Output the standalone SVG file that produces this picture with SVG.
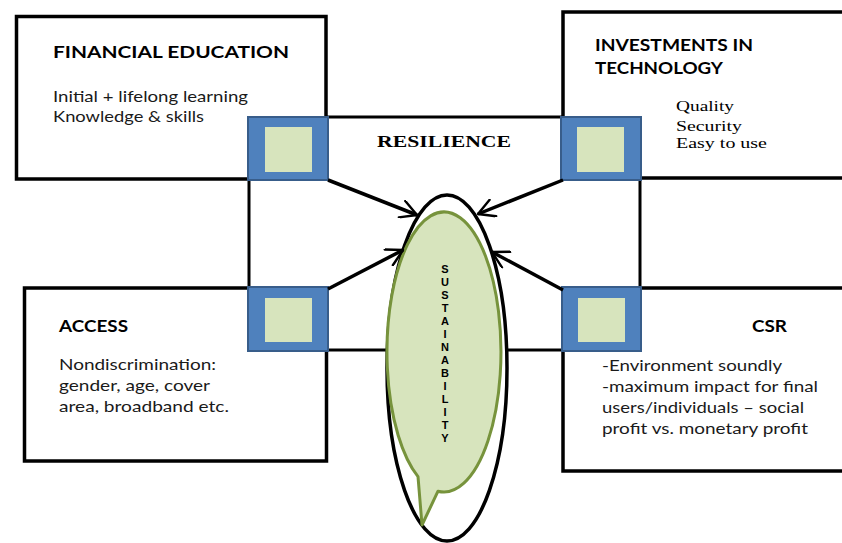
<svg xmlns="http://www.w3.org/2000/svg" width="842" height="543" viewBox="0 0 842 543">
  <defs>
    <style>
      .box { fill: #ffffff; stroke: #000000; stroke-width: 3.5; }
      .frame { fill: none; stroke: #000000; stroke-width: 3; }
      .outer { fill: #4F81BD; stroke: #385D8A; stroke-width: 2; }
      .inner { fill: #D7E4BD; }
      .head { font-family: Lato, "Liberation Sans", sans-serif; font-weight: bold; font-size: 17px; fill: #000000; }
      .body { font-family: Lato, "Liberation Sans", sans-serif; font-size: 15px; fill: #1a1a1a; }
      .serif { font-family: "Liberation Serif", "Times New Roman", serif; font-size: 15px; fill: #000000; }
      .serifb { font-family: "Liberation Serif", "Times New Roman", serif; font-weight: bold; font-size: 17px; fill: #000000; }
      .vert { font-family: "Liberation Sans", Arial, sans-serif; font-weight: bold; font-size: 11px; fill: #000000; }
      .arrow { fill: none; stroke: #000000; stroke-width: 3.5; marker-end: url(#head); }
    </style>
    <marker id="head" viewBox="0 0 12 12" refX="11" refY="6" markerWidth="5.5" markerHeight="5.5" orient="auto" markerUnits="strokeWidth">
      <path d="M1,0.5 L11,6 L1,11.5" fill="none" stroke="#000000" stroke-width="1.5" stroke-linecap="round" stroke-linejoin="round"/>
    </marker>
  </defs>

  <!-- central frame joining the four corner tabs -->
  <rect class="frame" x="249" y="117" width="391" height="233"/>

  <!-- Financial education -->
  <g id="financial-education">
    <rect class="box" x="16.5" y="16.5" width="309.5" height="162.5"/>
    <text class="head" x="53" y="58" textLength="236" lengthAdjust="spacingAndGlyphs">FINANCIAL EDUCATION</text>
    <text class="body" x="53" y="102" textLength="195" lengthAdjust="spacingAndGlyphs">Initial + lifelong learning</text>
    <text class="body" x="53" y="122" textLength="151" lengthAdjust="spacingAndGlyphs">Knowledge &amp; skills</text>
  </g>

  <!-- Investments in technology -->
  <g id="investments-in-technology">
    <rect class="box" x="563" y="12" width="300" height="166"/>
    <text class="head" x="595" y="51" textLength="158" lengthAdjust="spacingAndGlyphs">INVESTMENTS IN</text>
    <text class="head" x="595" y="74" textLength="128" lengthAdjust="spacingAndGlyphs">TECHNOLOGY</text>
    <text class="serif" x="676" y="111" textLength="58" lengthAdjust="spacingAndGlyphs">Quality</text>
    <text class="serif" x="676" y="131" textLength="66" lengthAdjust="spacingAndGlyphs">Security</text>
    <text class="serif" x="676" y="148" textLength="91" lengthAdjust="spacingAndGlyphs">Easy to use</text>
  </g>

  <!-- Access -->
  <g id="access">
    <rect class="box" x="24.5" y="288" width="302" height="173"/>
    <text class="head" x="59" y="332" textLength="69" lengthAdjust="spacingAndGlyphs">ACCESS</text>
    <text class="body" x="59" y="370" textLength="157" lengthAdjust="spacingAndGlyphs">Nondiscrimination:</text>
    <text class="body" x="59" y="391" textLength="151" lengthAdjust="spacingAndGlyphs">gender, age, cover</text>
    <text class="body" x="59" y="412" textLength="170" lengthAdjust="spacingAndGlyphs">area, broadband etc.</text>
  </g>

  <!-- CSR -->
  <g id="csr">
    <rect class="box" x="563" y="288" width="300" height="183"/>
    <text class="head" x="752" y="332" textLength="35" lengthAdjust="spacingAndGlyphs">CSR</text>
    <text class="body" x="602" y="371" textLength="180" lengthAdjust="spacingAndGlyphs">-Environment soundly</text>
    <text class="body" x="602" y="392" textLength="216" lengthAdjust="spacingAndGlyphs">-maximum impact for final</text>
    <text class="body" x="602" y="413" textLength="202" lengthAdjust="spacingAndGlyphs">users/individuals – social</text>
    <text class="body" x="602" y="434" textLength="206" lengthAdjust="spacingAndGlyphs">profit vs. monetary profit</text>
  </g>

  <!-- Resilience label -->
  <g id="resilience">
    <text class="serifb" x="377" y="147" textLength="134" lengthAdjust="spacingAndGlyphs">RESILIENCE</text>
  </g>

  <!-- corner tabs -->
  <g id="tab-top-left">
    <rect class="outer" x="248" y="117" width="80" height="63"/>
    <rect class="inner" x="265" y="127" width="47" height="45"/>
  </g>
  <g id="tab-top-right">
    <rect class="outer" x="561" y="117" width="80" height="63"/>
    <rect class="inner" x="577" y="127" width="47" height="45"/>
  </g>
  <g id="tab-bottom-left">
    <rect class="outer" x="248" y="287" width="80" height="64"/>
    <rect class="inner" x="265" y="298" width="47" height="44"/>
  </g>
  <g id="tab-bottom-right">
    <rect class="outer" x="562" y="287" width="79" height="64"/>
    <rect class="inner" x="578" y="298" width="47" height="44"/>
  </g>

  <!-- Sustainability -->
  <g id="sustainability">
    <ellipse cx="447" cy="368" rx="60" ry="173" fill="#ffffff" stroke="#000000" stroke-width="3.5"/>
    <path d="M418,476.6 L422,525 L438,491.2 A57,140 0 1 0 418,476.6 Z" fill="#D7E4BD" stroke="#77933C" stroke-width="3" stroke-linejoin="round"/>
    <g class="vert" text-anchor="middle">
      <text x="445" y="273">S</text>
      <text x="445" y="286">U</text>
      <text x="445" y="299">S</text>
      <text x="445" y="312">T</text>
      <text x="445" y="325">A</text>
      <text x="445" y="338">I</text>
      <text x="445" y="351">N</text>
      <text x="445" y="364">A</text>
      <text x="445" y="377">B</text>
      <text x="445" y="390">I</text>
      <text x="445" y="403">L</text>
      <text x="445" y="416">I</text>
      <text x="445" y="429">T</text>
      <text x="445" y="442">Y</text>
    </g>
  </g>

  <!-- connectors -->
  <g id="connectors">
    <line class="arrow" x1="328" y1="180" x2="417" y2="215"/>
    <line class="arrow" x1="563" y1="180" x2="478" y2="214"/>
    <line class="arrow" x1="328" y1="289" x2="403" y2="250"/>
    <line class="arrow" x1="563" y1="290" x2="492" y2="252"/>
  </g>
</svg>
